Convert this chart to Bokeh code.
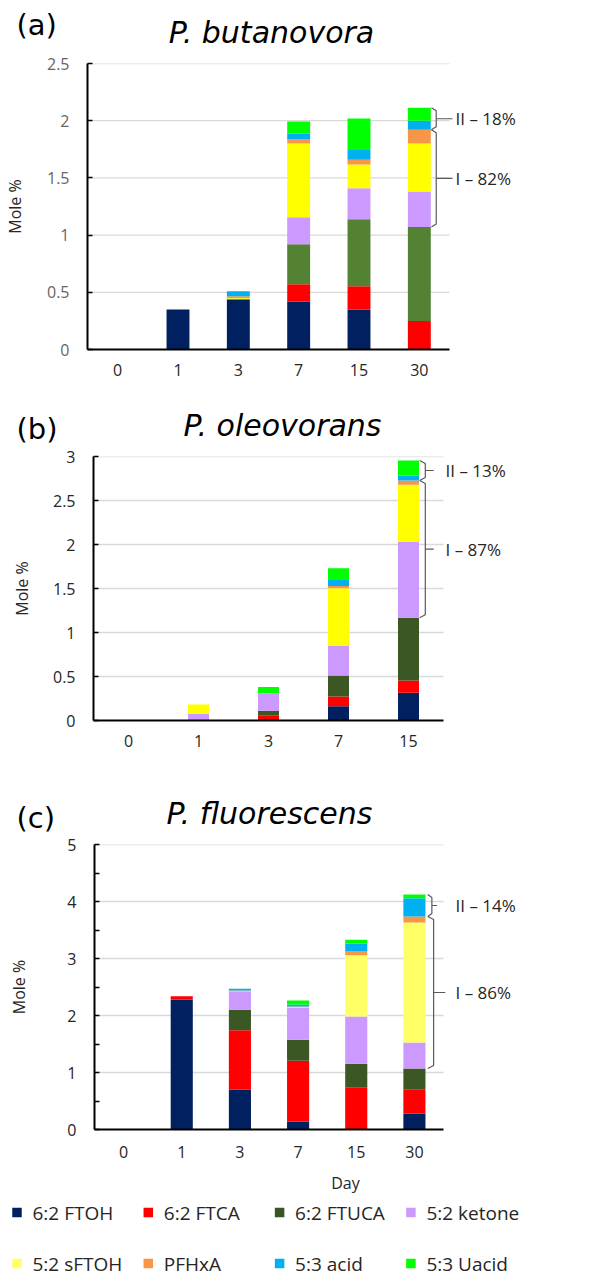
from bokeh.plotting import figure
from bokeh.models import ColumnDataSource, Range1d, FixedTicker, CustomJSTickFormatter, Label
from bokeh.layouts import column
from bokeh.embed import file_html
from bokeh.resources import INLINE
from bokeh.core.properties import value

FONT = "Open Sans"
HFONT = "DejaVu Sans"

series = ["6:2 FTOH", "6:2 FTCA", "6:2 FTUCA", "5:2 ketone",
          "5:2 sFTOH", "PFHxA", "5:3 acid", "5:3 Uacid"]
legend_colors = ["#002060", "#FF0000", "#375623", "#CC99FF",
                 "#FFFF66", "#F79646", "#00B0F0", "#00FF00"]
colors_a = ["#002060", "#FF0000", "#548235", "#CC99FF",
            "#FFFF00", "#F79646", "#00B0F0", "#00FF00"]
colors_b = ["#002060", "#FF0000", "#3B5724", "#CC99FF",
            "#FFFF00", "#F79646", "#00B0F0", "#00FF00"]
colors_c = ["#002060", "#FF0000", "#3B5724", "#CC99FF",
            "#FFFF66", "#F79646", "#00B0F0", "#00FF00"]

# ---- (a) P. butanovora ----
days_a = ["0", "1", "3", "7", "15", "30"]
ftoh_a = [0, 0.35, 0.434, 0.42, 0.35, 0]
ftca_a = [0, 0, 0, 0.15, 0.203, 0.25]
ftuca_a = [0, 0, 0.01, 0.35, 0.585, 0.821]
ketone_a = [0, 0, 0, 0.235, 0.271, 0.311]
sftoh_a = [0, 0, 0.006, 0.645, 0.209, 0.418]
pfhxa_a = [0, 0, 0.015, 0.035, 0.041, 0.121]
acid_a = [0, 0, 0.045, 0.051, 0.084, 0.079]
uacid_a = [0, 0, 0, 0.108, 0.277, 0.113]
brackets_a = ["II \u2013 18%", "I \u2013 82%"]

# ---- (b) P. oleovorans ----
days_b = ["0", "1", "3", "7", "15"]
ftoh_b = [0, 0, 0, 0.163, 0.314]
ftca_b = [0, 0, 0.053, 0.11, 0.141]
ftuca_b = [0, 0, 0.057, 0.238, 0.712]
ketone_b = [0, 0.076, 0.2, 0.337, 0.86]
sftoh_b = [0, 0.105, 0, 0.656, 0.653]
pfhxa_b = [0, 0, 0, 0.023, 0.047]
acid_b = [0, 0, 0, 0.071, 0.053]
uacid_b = [0, 0, 0.07, 0.133, 0.175]
brackets_b = ["II \u2013 13%", "I \u2013 87%"]

# ---- (c) P. fluorescens ----
days_c = ["0", "1", "3", "7", "15", "30"]
ftoh_c = [0, 2.281, 0.696, 0.14, 0, 0.281]
ftca_c = [0, 0.058, 1.047, 1.065, 0.731, 0.415]
ftuca_c = [0, 0, 0.356, 0.368, 0.421, 0.374]
ketone_c = [0, 0, 0.316, 0.562, 0.83, 0.456]
sftoh_c = [0, 0, 0.005, 0.008, 1.076, 2.106]
pfhxa_c = [0, 0, 0.02, 0.015, 0.065, 0.105]
acid_c = [0, 0, 0.028, 0.035, 0.14, 0.321]
uacid_c = [0, 0, 0, 0.07, 0.064, 0.065]
brackets_c = ["II \u2013 14%", "I \u2013 86%"]

W = 596


def blank(height):
    f = figure(width=W, height=height, x_range=Range1d(0, W), y_range=Range1d(height, 0),
               output_backend="svg", toolbar_location=None,
               min_border_left=0, min_border_right=0, min_border_top=0, min_border_bottom=0)
    f.frame_align = False
    f.axis.visible = False
    f.grid.visible = False
    f.outline_line_color = None
    f.background_fill_color = None
    f.border_fill_color = None
    return f


def header(letter, species, height, letter_mid, title_cx, title_mid):
    f = blank(height)
    f.text(x=[16], y=[letter_mid], text=[letter], text_font=value(HFONT),
           text_font_size=value("29px"), text_color="black",
           text_align="left", text_baseline="middle")
    f.text(x=[title_cx], y=[title_mid], text=[species], text_font=value(HFONT),
           text_font_size=value("30px"), text_font_style="italic", text_color="black",
           text_align="center", text_baseline="middle")
    return f


def make_panel(days, stacks, colors, brackets, ymax, yticks, yminor,
               H, L, T, FW, FH, bar_w, tick_color, brace, label_px,
               ylabel_standoff, xlabel=None, xlab_standoff=13):
    n = len(days)
    frame_w = W - L            # frame runs to the right edge of the figure
    x_end = -0.5 + n * frame_w / FW
    src = ColumnDataSource(dict(x=list(range(n)), **{s: v for s, v in zip(series, stacks)}))
    p = figure(width=W, height=H, x_range=Range1d(-0.5, x_end), y_range=Range1d(0, ymax),
               output_backend="svg", toolbar_location=None,
               min_border_left=L, min_border_right=0,
               min_border_top=T, min_border_bottom=H - T - FH)
    p.frame_align = False
    p.outline_line_color = None
    p.background_fill_color = None
    p.border_fill_color = None
    p.grid.visible = False

    grid_vals = [t for t in yticks if t > 0]
    p.segment(x0=[-0.5] * len(grid_vals), x1=[n - 0.5] * len(grid_vals),
              y0=grid_vals, y1=grid_vals, line_color="#D9D9D9", line_width=1.3)

    p.vbar_stack(series, x="x", width=bar_w, color=colors, source=src, line_color=None)

    xa = p.xaxis[0]
    xa.bounds = (-0.5, n - 0.5)
    xa.ticker = FixedTicker(ticks=list(range(n)))
    xa.formatter = CustomJSTickFormatter(args=dict(labels=days),
                                         code="return labels[Math.round(tick)] || ''")
    xa.major_tick_line_color = None
    xa.major_tick_in = 0
    xa.major_tick_out = 0
    xa.minor_tick_line_color = None
    xa.minor_tick_in = 0
    xa.minor_tick_out = 0
    xa.axis_line_color = "black"
    xa.axis_line_width = 2
    xa.major_label_text_font = FONT
    xa.major_label_text_font_size = "16px"
    xa.major_label_text_color = "#262626"
    xa.major_label_standoff = xlab_standoff
    if xlabel:
        xa.axis_label = xlabel
        xa.axis_label_text_font = FONT
        xa.axis_label_text_font_style = "normal"
        xa.axis_label_text_font_size = "16px"
        xa.axis_label_text_color = "#262626"
        xa.axis_label_standoff = 11

    ya = p.yaxis[0]
    ya.bounds = (0, ymax)
    ya.ticker = FixedTicker(ticks=yticks, minor_ticks=yminor)
    ya.formatter = CustomJSTickFormatter(code="return String(Math.round(tick*10)/10)")
    ya.axis_line_color = "black"
    ya.axis_line_width = 2
    ya.major_tick_in = 5
    ya.major_tick_out = 0
    ya.major_tick_line_color = "black"
    ya.major_tick_line_width = 1.5
    ya.minor_tick_in = 5
    ya.minor_tick_out = 0
    ya.minor_tick_line_color = "black" if yminor else None
    ya.minor_tick_line_width = 1.5
    ya.major_label_text_font = FONT
    ya.major_label_text_font_size = "16px"
    ya.major_label_text_color = tick_color
    ya.major_label_standoff = 18
    ya.axis_label = "Mole %"
    ya.axis_label_text_font = FONT
    ya.axis_label_text_font_style = "normal"
    ya.axis_label_text_font_size = "16px"
    ya.axis_label_text_color = "#262626"
    ya.axis_label_standoff = ylabel_standoff

    def dx(px):
        return -0.5 + (px - L) / FW * n

    # brackets: II = 5:3 acid + 5:3 Uacid ; I = 5:2 ketone + 5:2 sFTOH + PFHxA
    last = n - 1
    cum = [0.0]
    for s in stacks:
        cum.append(cum[-1] + s[last])
    spans = [(cum[6], cum[8]), (cum[3], cum[6])]
    hook = 3.0 / FH * ymax
    for (b, t), lab, (xe, xv, xt) in zip(spans, brackets, brace):
        xs = [last + xe, last + xv, last + xv, last + xe]
        ys = [t, t - hook, b + hook, b]
        p.line(xs, ys, line_color="#595959", line_width=1.2)
        mid = (b + t) / 2
        p.line([last + xv, last + xt], [mid, mid], line_color="#595959", line_width=1.2)
        p.add_layout(Label(x=dx(label_px), y=mid, text=lab, text_font=FONT,
                           text_font_size="17px", text_color="#262626",
                           text_align="left", text_baseline="middle"))
    return p


ha = header("(a)", "P. butanovora", 50, letter_mid=24, title_cx=271, title_mid=32)
pa = make_panel(days_a,
                [ftoh_a, ftca_a, ftuca_a, ketone_a, sftoh_a, pfhxa_a, acid_a, uacid_a],
                colors_a, brackets_a, 2.5, [0, 0.5, 1, 1.5, 2, 2.5], [],
                H=345, L=87, T=13, FW=362, FH=286, bar_w=0.38, tick_color="#666666",
                brace=[(0.2, 0.28, 0.55), (0.2, 0.28, 0.55)], label_px=455,
                ylabel_standoff=18, xlab_standoff=14)

hb = header("(b)", "P. oleovorans", 50, letter_mid=33, title_cx=282, title_mid=29.5)
pb = make_panel(days_b,
                [ftoh_b, ftca_b, ftuca_b, ketone_b, sftoh_b, pfhxa_b, acid_b, uacid_b],
                colors_b, brackets_b, 3, [0, 0.5, 1, 1.5, 2, 2.5, 3], [],
                H=330, L=93, T=11, FW=350, FH=264, bar_w=0.30, tick_color="#262626",
                brace=[(0.16, 0.24, 0.36), (0.16, 0.24, 0.36)], label_px=445,
                ylabel_standoff=17, xlab_standoff=14)

hc = header("(c)", "P. fluorescens", 59, letter_mid=42, title_cx=269, title_mid=37.5)
pc = make_panel(days_c,
                [ftoh_c, ftca_c, ftuca_c, ketone_c, sftoh_c, pfhxa_c, acid_c, uacid_c],
                colors_c, brackets_c, 5, [0, 1, 2, 3, 4, 5], [0.5, 1.5, 2.5, 3.5, 4.5],
                H=363, L=94, T=10, FW=349, FH=285, bar_w=0.38, tick_color="#262626",
                brace=[(0.23, 0.30, 0.39), (0.23, 0.33, 0.53)], label_px=455,
                ylabel_standoff=34, xlabel="Day", xlab_standoff=16)

# ---- legend ----
LH = 80
pl = blank(LH)
leg_x = [12 + (i % 4) * 131.3 for i in range(len(series))]
leg_y = [15 if i < 4 else 66 for i in range(len(series))]
leg_src = ColumnDataSource(dict(x=[v + 4.5 for v in leg_x], tx=[v + 20 for v in leg_x],
                                y=leg_y, name=series, color=legend_colors))
pl.rect(x="x", y="y", width=9.5, height=9.5, color="color", line_color=None, source=leg_src)
pl.text(x="tx", y="y", text="name", source=leg_src, text_font=value(FONT),
        text_font_size=value("19px"), text_color="#262626", text_baseline="middle",
        text_align="left")

layout = column(ha, pa, hb, pb, hc, pc, pl, spacing=0)
open("out.html", "w").write(file_html(layout, INLINE))
